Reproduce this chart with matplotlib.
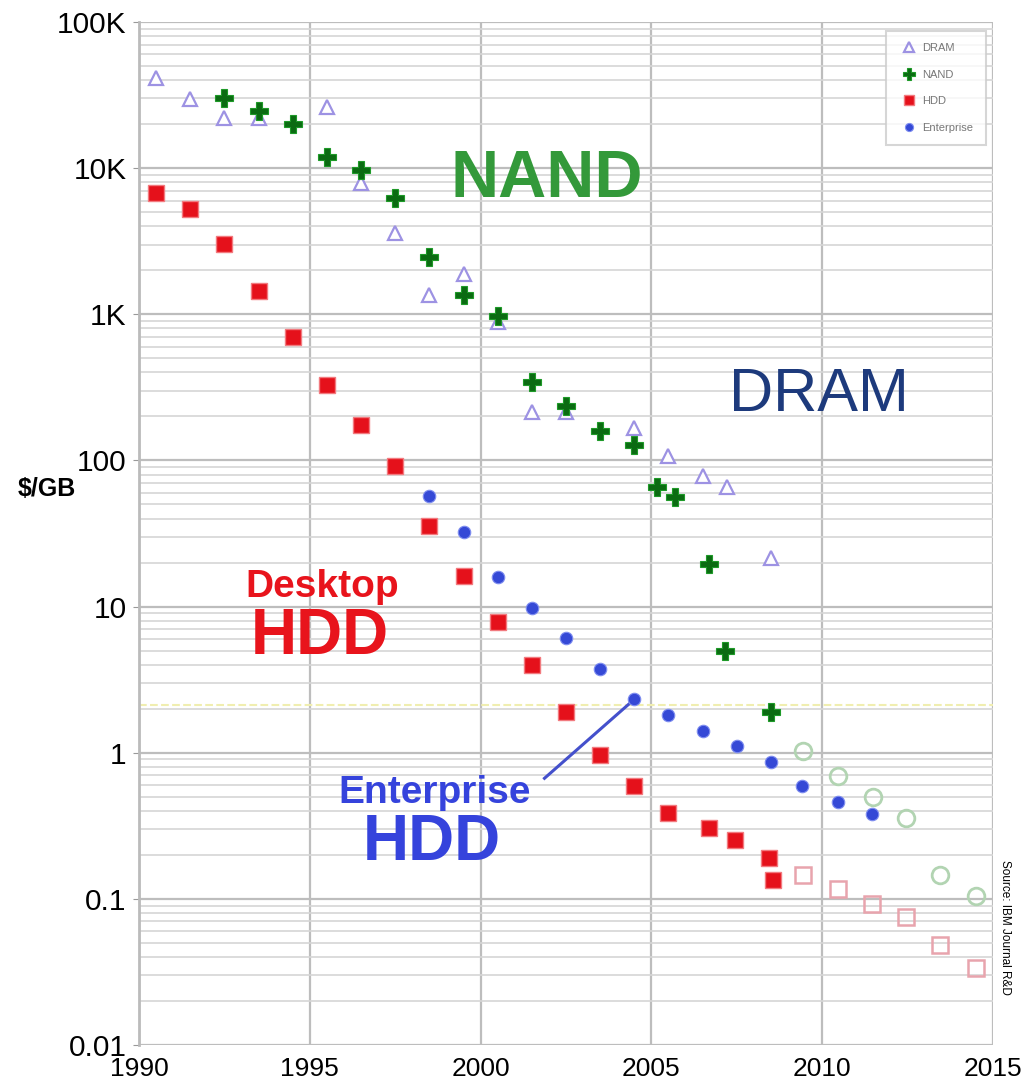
import matplotlib
matplotlib.use("Agg")
import matplotlib.pyplot as plt
from matplotlib.ticker import FixedLocator, LogLocator, NullFormatter

plt.rcParams['font.family'] = ['Liberation Sans', 'DejaVu Sans']

# DRAM $/GB
dram_x = [1990.5, 1991.5, 1992.5, 1993.5, 1995.5, 1996.5, 1997.5, 1998.5, 1999.5,
          2000.5, 2001.5, 2002.5, 2004.5, 2005.5, 2006.5, 2007.2, 2008.5]
dram_y = [41400, 29700, 22000, 22000, 26200, 7900, 3600, 1350, 1880,
          885, 214, 214, 166, 107, 78, 66, 21.4]

# NAND $/GB
nand_x = [1992.5, 1993.5, 1994.5, 1995.5, 1996.5, 1997.5, 1998.5, 1999.5, 2000.5,
          2001.5, 2002.5, 2003.5, 2004.5, 2005.15, 2005.7, 2006.7, 2007.15, 2008.5]
nand_y = [30200, 24600, 20000, 11900, 9700, 6240, 2460, 1350, 972,
          344, 235, 159, 127, 66, 56, 19.5, 4.95, 1.89]
# NAND projection
nand_p_x = [2009.45, 2010.45, 2011.5, 2012.45, 2013.45, 2014.5]
nand_p_y = [1.02, 0.69, 0.495, 0.356, 0.145, 0.104]

# Desktop HDD $/GB
hdd_x = [1990.5, 1991.5, 1992.5, 1993.5, 1994.5, 1995.5, 1996.5, 1997.5, 1998.5, 1999.5,
         2000.5, 2001.5, 2002.5, 2003.5, 2004.5, 2005.5, 2006.7, 2007.45, 2008.45, 2008.55]
hdd_y = [6750, 5250, 3020, 1440, 698, 327, 175, 91, 35.5, 16.1,
         7.8, 3.97, 1.89, 0.96, 0.59, 0.385, 0.304, 0.252, 0.19, 0.134]
# HDD projection
hdd_p_x = [2009.45, 2010.45, 2011.45, 2012.45, 2013.45, 2014.5]
hdd_p_y = [0.145, 0.116, 0.092, 0.075, 0.048, 0.0335]

# Enterprise HDD $/GB
ent_x = [1998.5, 1999.5, 2000.5, 2001.5, 2002.5, 2003.5, 2004.5, 2005.5, 2006.5,
         2007.5, 2008.5, 2009.4, 2010.45, 2011.45]
ent_y = [57, 32.3, 15.9, 9.75, 6.08, 3.73, 2.32, 1.81, 1.40,
         1.12, 0.86, 0.59, 0.46, 0.38]

year_ticks = [1990, 1995, 2000, 2005, 2010, 2015]
y_ticks = [0.01, 0.1, 1, 10, 100, 1000, 10000, 100000]
y_labels = ['0.01', '0.1', '1', '10', '100', '1K', '10K', '100K']

fig = plt.figure(figsize=(10.21, 10.91), dpi=100)
ax = fig.add_axes([0.1361, 0.0422, 0.8365, 0.9376])
ax.set_yscale('log')
ax.set_xlim(1990, 2015)
ax.set_ylim(0.01, 100000)

ax.yaxis.set_major_locator(FixedLocator(y_ticks))
ax.set_yticklabels(y_labels)
ax.yaxis.set_minor_locator(LogLocator(base=10, subs=range(2, 10), numticks=20))
ax.yaxis.set_minor_formatter(NullFormatter())
ax.set_xticks(year_ticks)
ax.tick_params(axis='y', labelsize=21.5, length=4, color='#999999')
ax.tick_params(axis='y', which='major', pad=5)
ax.tick_params(axis='y', which='minor', length=0)
ax.tick_params(axis='x', labelsize=19, length=0, pad=9)

ax.grid(True, which='major', axis='both', color='#bdbdbd', lw=1.6)
ax.grid(True, which='minor', axis='y', color='#d6d6d6', lw=1.2)
ax.set_axisbelow(True)
for s in ['top', 'right', 'bottom']:
    ax.spines[s].set_visible(False)
ax.spines['left'].set_color('#bbbbbb')
ax.spines['left'].set_linewidth(2)

ax.axhline(2.11, color='#f0eeb0', lw=1.5, ls='--', zorder=1)

ax.plot(dram_x, dram_y, ls='none', marker='^', ms=10, mfc='white',
        mec='#9d92e3', mew=1.6, label='DRAM', zorder=3)
ax.plot(nand_x, nand_y, ls='none', marker='P', ms=13, mfc='#0b6b12',
        mec='#1e9a28', mew=0.8, label='NAND', zorder=4)
ax.plot(nand_p_x, nand_p_y, ls='none', marker='o', ms=12, mfc='none',
        mec='#b2d4b2', mew=2, zorder=3)
ax.plot(hdd_x, hdd_y, ls='none', marker='s', ms=11, mfc='#e5111b',
        mec='#f27a7f', mew=1, label='HDD', zorder=3)
ax.plot(hdd_p_x, hdd_p_y, ls='none', marker='s', ms=11, mfc='none',
        mec='#e8a4ad', mew=1.8, zorder=3)
ax.plot(ent_x, ent_y, ls='none', marker='o', ms=9, mfc='#3549d6',
        mec='#7f8ef0', mew=0.8, label='Enterprise', zorder=3)

ax.plot([2001.87, ent_x[6]], [0.668, ent_y[6]], color='#4450cc', lw=2.2, zorder=2)

ax.text(2001.93, 8300, 'NAND', color='#33993a', fontsize=48, fontweight='bold',
        ha='center', va='center')
ax.text(2009.9, 280, 'DRAM', color='#1d3a7c', fontsize=44,
        ha='center', va='center')
ax.text(1995.35, 13.6, 'Desktop', color='#e8141c', fontsize=28, fontweight='bold',
        ha='center', va='center')
ax.text(1995.3, 6.2, 'HDD', color='#e8141c', fontsize=46, fontweight='bold',
        ha='center', va='center')
ax.text(1998.65, 0.53, 'Enterprise', color='#3543dc', fontsize=28, fontweight='bold',
        ha='center', va='center')
ax.text(1998.57, 0.24, 'HDD', color='#3543dc', fontsize=46, fontweight='bold',
        ha='center', va='center')

fig.text(0.046, 0.552, '$/GB', fontsize=18, fontweight='bold', ha='center', va='center')
fig.text(0.984, 0.15, 'Source: IBM Journal R&D', fontsize=8.5, rotation=-90,
         ha='center', va='center')

leg = ax.legend(loc='upper right', fontsize=8, frameon=True, fancybox=False,
                edgecolor='#cccccc', borderpad=1.1, labelspacing=1.5,
                handletextpad=0.2, markerscale=0.65, bbox_to_anchor=(0.998, 0.997))
leg.get_frame().set_linewidth(1.5)
for t in leg.get_texts():
    t.set_color('#777777')

fig.savefig('out.png', dpi=100)
